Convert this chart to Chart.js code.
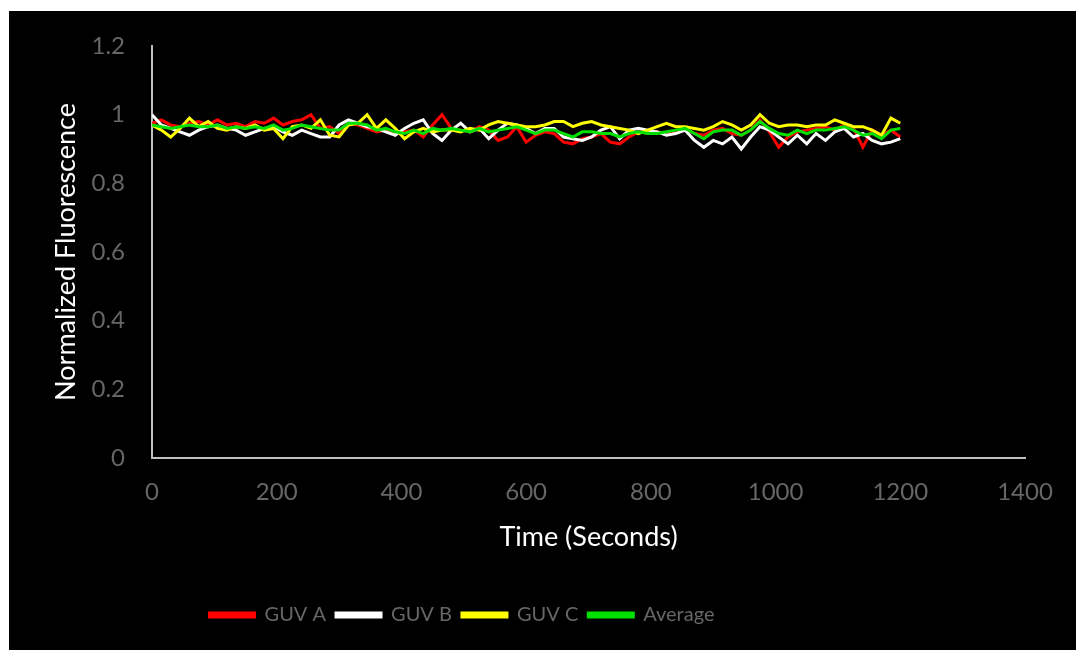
<!DOCTYPE html>
<html>
<head>
<meta charset="utf-8">
<script src="https://cdn.jsdelivr.net/npm/chart.js@4/dist/chart.umd.min.js"></script>
<style>
  html, body { margin: 0; padding: 0; background: #fff; }
  #frame { position: absolute; left: 9px; top: 11px; width: 1067px; height: 639px; background: #000; }
</style>
</head>
<body>
<div id="frame"><canvas id="fluo" width="1067" height="639"></canvas></div>
<script>
// time points (s) and normalized fluorescence per GUV
const TIME = [0, 15, 30, 45, 60, 75, 90, 105, 120, 135, 150, 165, 180, 195, 210, 225, 240,
  255, 270, 285, 300, 315, 330, 345, 360, 375, 390, 405,
  420, 435, 450, 465, 480, 495, 510, 525, 540, 555, 570, 585, 600,
  615, 630, 645, 660, 675, 690, 705, 720, 735, 750, 765, 780, 795,
  810, 825, 840, 855, 870, 885, 900, 915, 930, 945, 960, 975, 990, 1005,
  1020, 1035, 1050, 1065, 1080, 1095, 1110, 1125, 1140, 1155, 1170, 1185, 1200];

const GUV_A = [0.975, 0.985, 0.97, 0.965, 0.975, 0.98, 0.97, 0.985, 0.97, 0.975, 0.965, 0.98, 0.975, 0.99, 0.97, 0.98, 0.985,
  1.0, 0.96, 0.965, 0.945, 0.975, 0.97, 0.96, 0.95, 0.955, 0.945, 0.95,
  0.955, 0.935, 0.97, 1.0, 0.96, 0.955, 0.95, 0.965, 0.955, 0.925, 0.935, 0.965, 0.92,
  0.94, 0.95, 0.945, 0.92, 0.915, 0.93, 0.935, 0.945, 0.92, 0.915, 0.935, 0.95, 0.945,
  0.95, 0.945, 0.95, 0.96, 0.945, 0.94, 0.955, 0.96, 0.945, 0.94, 0.955, 0.985, 0.95, 0.905,
  0.935, 0.95, 0.955, 0.96, 0.965, 0.955, 0.97, 0.96, 0.905, 0.955, 0.94, 0.955, 0.935];

const GUV_B = [1.0, 0.97, 0.96, 0.95, 0.94, 0.955, 0.965, 0.97, 0.96, 0.955, 0.94, 0.95, 0.96, 0.965, 0.95, 0.94, 0.955,
  0.945, 0.935, 0.935, 0.97, 0.985, 0.975, 0.965, 0.96, 0.95, 0.94, 0.96,
  0.975, 0.985, 0.945, 0.925, 0.955, 0.975, 0.95, 0.96, 0.93, 0.955, 0.975, 0.97, 0.96,
  0.945, 0.96, 0.96, 0.935, 0.93, 0.925, 0.935, 0.955, 0.965, 0.93, 0.955, 0.96, 0.955,
  0.95, 0.94, 0.945, 0.955, 0.925, 0.905, 0.925, 0.915, 0.935, 0.9, 0.935, 0.965, 0.955, 0.935,
  0.915, 0.94, 0.915, 0.945, 0.925, 0.95, 0.96, 0.935, 0.945, 0.925, 0.915, 0.92, 0.93];

const GUV_C = [0.97, 0.955, 0.935, 0.96, 0.99, 0.965, 0.98, 0.96, 0.955, 0.965, 0.96, 0.97, 0.955, 0.96, 0.93, 0.965, 0.97,
  0.96, 0.985, 0.94, 0.935, 0.97, 0.975, 1.0, 0.96, 0.985, 0.96, 0.93,
  0.95, 0.96, 0.95, 0.955, 0.955, 0.95, 0.96, 0.955, 0.97, 0.98, 0.975, 0.97, 0.965,
  0.965, 0.97, 0.98, 0.98, 0.965, 0.975, 0.98, 0.97, 0.965, 0.96, 0.955, 0.945, 0.955,
  0.965, 0.975, 0.965, 0.965, 0.96, 0.955, 0.965, 0.98, 0.97, 0.955, 0.97, 1.0, 0.975, 0.965,
  0.97, 0.97, 0.965, 0.97, 0.97, 0.985, 0.975, 0.965, 0.965, 0.955, 0.94, 0.99, 0.975];

const AVERAGE = [0.97, 0.965, 0.96, 0.965, 0.97, 0.965, 0.965, 0.97, 0.96, 0.965, 0.96, 0.965, 0.96, 0.97, 0.955, 0.96, 0.97,
  0.965, 0.96, 0.955, 0.955, 0.975, 0.975, 0.97, 0.955, 0.96, 0.95, 0.945,
  0.955, 0.945, 0.96, 0.955, 0.96, 0.955, 0.95, 0.96, 0.95, 0.955, 0.96, 0.965, 0.955,
  0.945, 0.955, 0.955, 0.945, 0.935, 0.95, 0.95, 0.945, 0.945, 0.935, 0.945, 0.95, 0.945,
  0.945, 0.95, 0.955, 0.96, 0.945, 0.93, 0.95, 0.955, 0.955, 0.94, 0.955, 0.98, 0.96, 0.945,
  0.94, 0.955, 0.945, 0.955, 0.955, 0.96, 0.965, 0.955, 0.94, 0.945, 0.93, 0.955, 0.96];

const SERIES = [
  { label: "GUV A", values: GUV_A, color: "#ff0000", order: 4 },
  { label: "GUV B", values: GUV_B, color: "#ffffff", order: 3 },
  { label: "GUV C", values: GUV_C, color: "#ffff00", order: 2 },
  { label: "Average", values: AVERAGE, color: "#00e000", order: 1 },
];

const FONT = "Lato, 'Open Sans', sans-serif";
const GREY_TEXT = "#666666";
const AXIS_LINE = "#bfbfbf";

// legend sits left of centre in the original, nudge it after layout
const legendShift = {
  id: "legendShift",
  afterLayout(chart) {
    const lg = chart.legend;
    if (!lg) return;
    lg.left -= 55;
    lg.right -= 55;
  }
};

function renderChart() {
  const canvas = document.getElementById("fluo");
  new Chart(canvas, {
    type: "line",
    data: {
      datasets: SERIES.map(s => ({
        label: s.label,
        data: TIME.map((t, i) => ({ x: t, y: s.values[i] })),
        borderColor: s.color,
        backgroundColor: s.color,
        borderWidth: 3,
        pointRadius: 0,
        tension: 0,
        order: s.order,
      }))
    },
    options: {
      responsive: false,
      animation: false,
      layout: { padding: { left: 0, right: 51, top: 35, bottom: 15 } },
      scales: {
        x: {
          type: "linear",
          min: 0, max: 1400,
          afterFit: sc => { sc.height = 137; },
          ticks: { stepSize: 200, color: GREY_TEXT, font: { family: FONT, size: 24 }, padding: 20,
                   maxRotation: 0, callback: v => String(v) },
          grid: { display: false, drawTicks: false },
          border: { display: true, color: AXIS_LINE, width: 2 },
          title: { display: true, text: "Time (Seconds)", color: "#ffffff",
                   font: { family: FONT, size: 27 }, padding: { top: 0, bottom: 42 } }
        },
        y: {
          min: 0, max: 1.2,
          afterFit: sc => { sc.width = 143; sc.paddingTop = 0; sc.paddingBottom = 0; },
          ticks: { stepSize: 0.2, color: GREY_TEXT, font: { family: FONT, size: 24 }, padding: 27,
                   callback: v => String(Math.round(v * 10) / 10) },
          grid: { display: false, drawTicks: false },
          border: { display: true, color: AXIS_LINE, width: 2 },
          title: { display: true, text: "Normalized Fluorescence", color: "#ffffff",
                   font: { family: FONT, size: 27 }, padding: { top: 41, bottom: 0 } }
        }
      },
      plugins: {
        legend: {
          position: "bottom",
          labels: { color: GREY_TEXT, font: { family: FONT, size: 20 }, boxWidth: 45, boxHeight: 4, padding: 10,
                    sort: (a, b) => a.datasetIndex - b.datasetIndex }
        },
        tooltip: { enabled: false }
      }
    },
    plugins: [legendShift]
  });
}

document.addEventListener("DOMContentLoaded", renderChart);
</script>
</body>
</html>
